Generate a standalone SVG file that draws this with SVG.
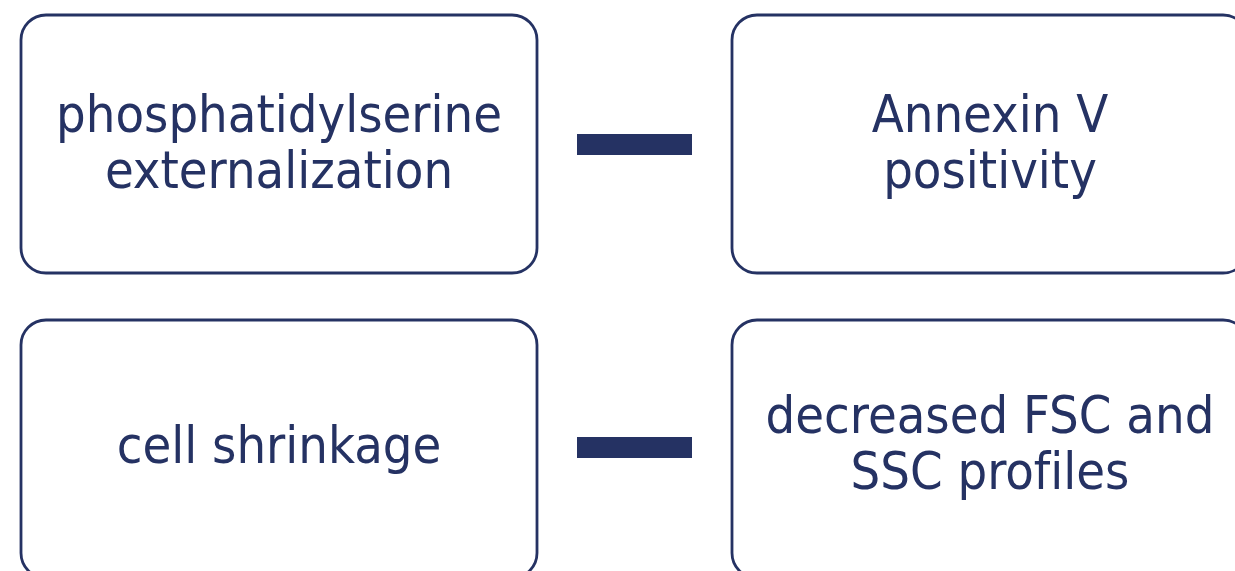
<svg xmlns="http://www.w3.org/2000/svg" width="1235" height="571" viewBox="0 0 1235 571">
<style>
.box{fill:#ffffff;stroke:#253263;stroke-width:2.8}
.dash{fill:#253263}
.t{font-family:"DejaVu Sans Condensed","DejaVu Sans",sans-serif;font-stretch:condensed;font-size:52px;fill:#253263;text-anchor:middle;font-variant-ligatures:none}
</style>
<rect width="1235" height="571" fill="#ffffff"/>
<g id="n1">
<rect class="box" x="21" y="15" width="516" height="258" rx="25"/>
<text class="t" x="279" y="132">phosphatidylserine</text>
<text class="t" x="279" y="188">externalization</text>
</g>
<g id="n2">
<rect class="box" x="732" y="15" width="516" height="258" rx="25"/>
<text class="t" x="990" y="132">Annexin V</text>
<text class="t" x="990" y="188">positivity</text>
</g>
<g id="n3">
<rect class="box" x="21" y="320" width="516" height="258" rx="25"/>
<text class="t" x="279" y="463">cell shrinkage</text>
</g>
<g id="n4">
<rect class="box" x="732" y="320" width="516" height="258" rx="25"/>
<text class="t" x="990" y="433">decreased FSC and</text>
<text class="t" x="990" y="489">SSC profiles</text>
</g>
<g id="connectors">
<rect class="dash" x="577" y="134" width="115" height="21"/>
<rect class="dash" x="577" y="437" width="115" height="21"/>
</g>
</svg>
